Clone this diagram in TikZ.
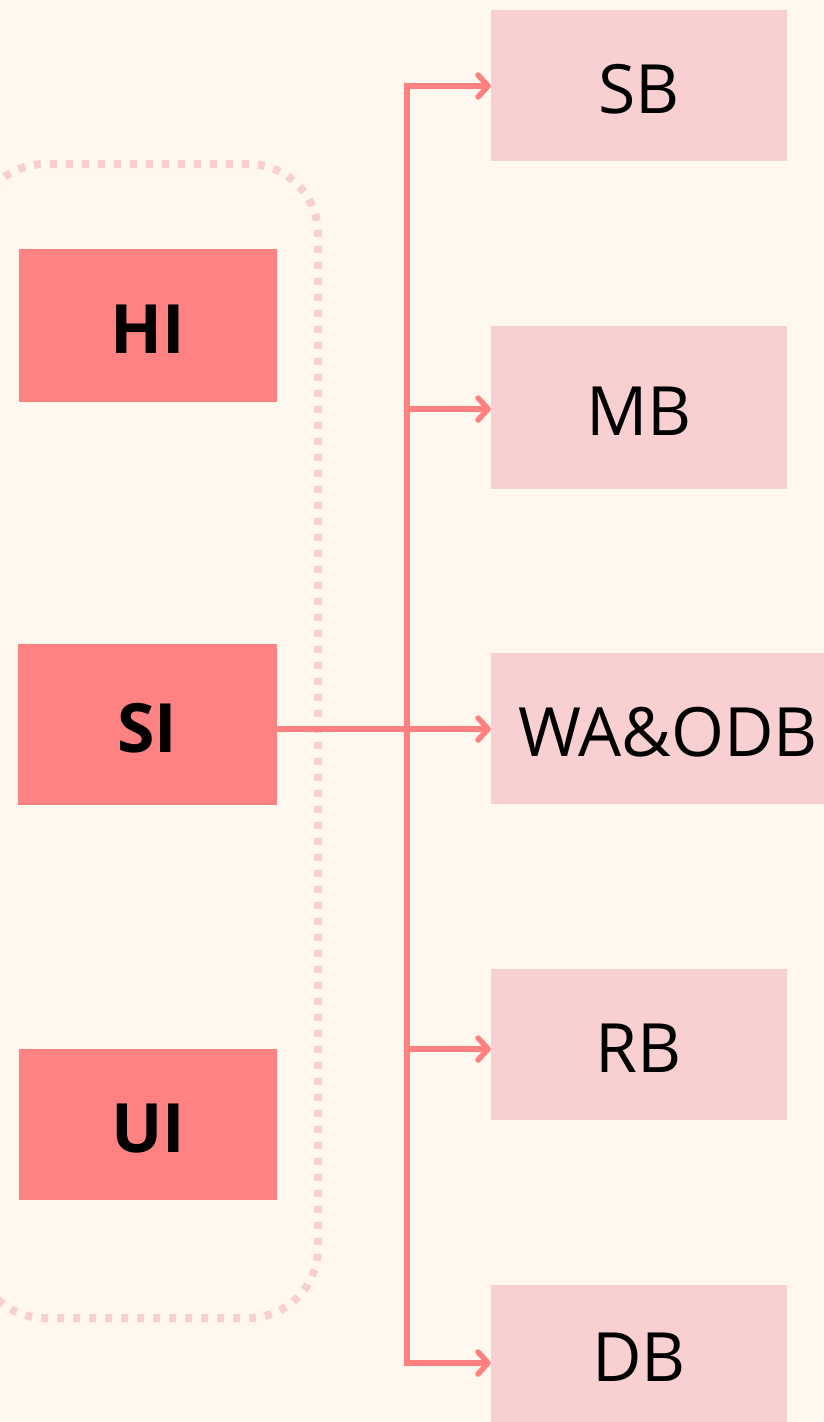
\documentclass[tikz,border=0pt]{standalone}
\usepackage{fontspec}
\setmainfont{Open Sans}
\usetikzlibrary{arrows.meta}
\definecolor{bgc}{HTML}{FFF8EE}
\definecolor{darkbox}{HTML}{FF8282}
\definecolor{lightbox}{HTML}{F9D0D2}
\definecolor{linec}{HTML}{FF8080}
\tikzset{
  lbl/.style={font=\fontsize{68}{80}\selectfont, text=black, text height=55pt, text depth=0pt},
  darknode/.style={fill=darkbox, inner sep=0pt, minimum width=258pt, lbl, font=\fontsize{68}{80}\selectfont\bfseries},
  lightnode/.style={fill=lightbox, inner sep=0pt, minimum width=296pt, lbl},
  arr/.style={draw=linec, line width=5.5pt, -{Straight Barb[length=10pt, width=22pt, line cap=round, line join=round]}},
  frame/.style={draw=lightbox, line width=8pt, dash pattern=on 7pt off 9pt, rounded corners=70pt}
}
\begin{document}
\begin{tikzpicture}[x=1pt, y=-1pt]
\useasboundingbox (0,0) rectangle (824,1422);
\fill[bgc] (0,0) rectangle (824,1422);
\draw[frame] (-25,164) rectangle (318,1318);
% dark nodes
\node[darknode, minimum height=153pt] (HI) at (148,325.5) {HI};
\node[darknode, minimum width=259pt, minimum height=161pt] (SI) at (147.5,724.5) {SI};
\node[darknode, minimum height=151pt] (UI) at (148,1124.5) {UI};
% light nodes
\node[lightnode, minimum height=151pt] (SB) at (639,85.5) {SB};
\node[lightnode, minimum height=163pt] (MB) at (639,407.5) {MB};
\node[fill=lightbox, inner sep=0pt, minimum width=333pt, minimum height=151pt] (WA) at (657.5,728.5) {};
\node[lbl, inner sep=0pt] (WAt) at (668,728.5) {WA\&ODB};
\node[lightnode, minimum height=151pt] (RB) at (639,1044.5) {RB};
\node[lightnode, minimum height=137pt] (DB) at (639,1353.5) {DB};
% connectors
\coordinate (j) at (407,729);
\draw[arr] (SI.east |- j) -- (WA.west |- j);
\draw[arr, line join=miter] (j) |- (SB.west |- 0,86);
\draw[arr] (j) |- (MB.west |- 0,409);
\draw[arr] (j) |- (RB.west |- 0,1049);
\draw[arr, line join=miter] (j) |- (DB.west |- 0,1363);
\end{tikzpicture}
\end{document}
